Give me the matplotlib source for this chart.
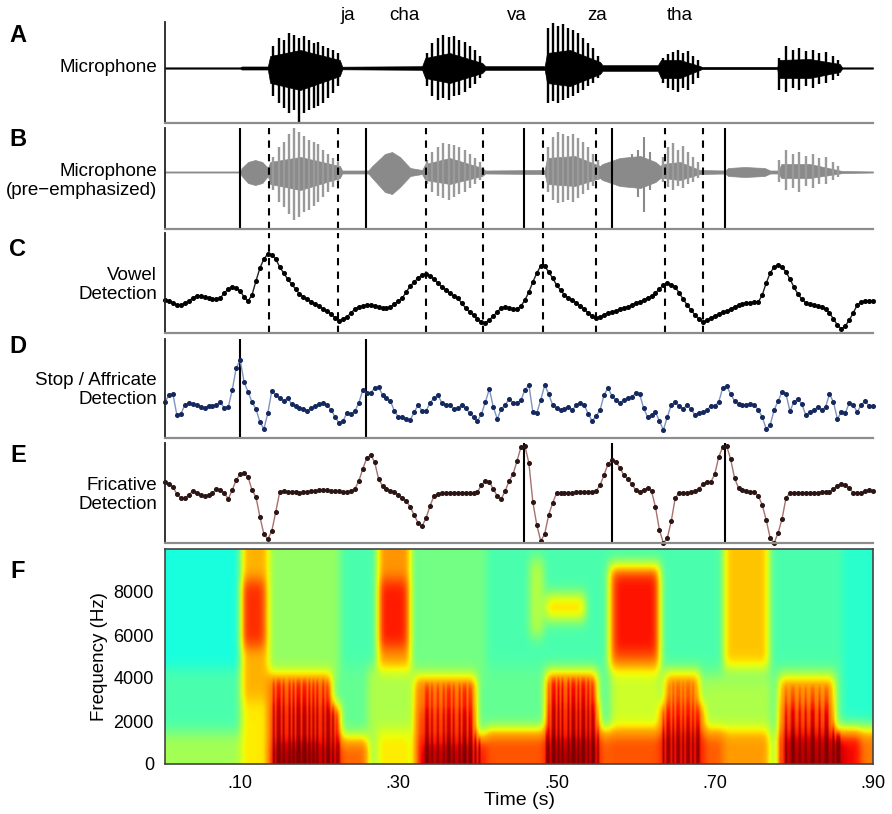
import numpy as np
import matplotlib
matplotlib.use("Agg")
import matplotlib.pyplot as plt
from matplotlib import transforms

plt.rcParams['font.family'] = ['Liberation Sans', 'DejaVu Sans']

# ---------------- data ----------------
syllables = ["ja", "cha", "va", "za", "tha"]
syllable_t = [0.236, 0.308, 0.450, 0.551, 0.656]

boundary_t = [0.100, 0.259, 0.459, 0.570, 0.713]
vowel_mark_t = [0.137, 0.224, 0.335, 0.407, 0.483, 0.550, 0.637, 0.685]
stop_t = [0.100, 0.259]
fric_t = [0.459, 0.570, 0.713]

panel_letters = ["A", "B", "C", "D", "E", "F"]
panel_names = ["Microphone", "Microphone\n(pre\u2212emphasized)", "Vowel\nDetection",
               "Stop / Affricate\nDetection", "Fricative\nDetection"]

# glottal pulse times (s) and amplitudes in both microphone traces
pulse_t = [0.142, 0.149, 0.155, 0.162, 0.168, 0.174, 0.181, 0.187, 0.193, 0.198, 0.205, 0.211, 0.217, 0.224,
           0.336, 0.343, 0.350, 0.357, 0.364, 0.370, 0.377, 0.384, 0.391, 0.397, 0.403,
           0.489, 0.496, 0.502, 0.508, 0.515, 0.521, 0.527, 0.534, 0.540, 0.546, 0.552,
           0.635, 0.641, 0.647, 0.654, 0.660, 0.666, 0.673, 0.679,
           0.781, 0.790, 0.799, 0.807, 0.815, 0.824, 0.832, 0.841, 0.850, 0.856]
micA_up = [22, 30, 28, 35, 33, 30, 32, 28, 25, 26, 22, 20, 18, 15,
           15, 25, 30, 33, 31, 32, 28, 26, 22, 18, 12,
           40, 45, 42, 44, 40, 38, 35, 30, 25, 20, 12,
           10, 14, 16, 18, 15, 17, 12, 8,
           10, 22, 18, 20, 17, 18, 15, 16, 12, 8]
micA_lo = [28, 35, 40, 45, 42, 55, 45, 42, 40, 38, 35, 30, 25, 18,
           18, 28, 32, 30, 32, 28, 27, 24, 20, 16, 10,
           35, 33, 35, 32, 30, 28, 25, 22, 18, 15, 10,
           15, 20, 22, 24, 20, 22, 16, 10,
           22, 24, 20, 22, 18, 20, 16, 15, 12, 8]
micB_up = [15, 25, 30, 38, 44, 40, 36, 32, 30, 28, 22, 18, 14, 10,
           12, 20, 25, 29, 28, 27, 25, 22, 18, 14, 10,
           25, 35, 40, 38, 36, 38, 34, 30, 25, 18, 12,
           15, 25, 29, 22, 26, 20, 15, 10,
           12, 22, 18, 20, 16, 18, 14, 15, 10, 6]
micB_lo = [18, 30, 35, 42, 48, 45, 40, 38, 34, 30, 25, 20, 15, 10,
           12, 20, 24, 26, 28, 25, 22, 20, 16, 12, 8,
           20, 28, 31, 30, 28, 30, 26, 22, 18, 14, 8,
           10, 15, 18, 14, 16, 12, 10, 6,
           10, 18, 16, 20, 14, 16, 12, 12, 8, 5]
fricB_t = [0.595, 0.603, 0.611, 0.618]
fricB_up = [18, 22, 35, 20]
fricB_lo = [15, 25, 40, 18]

# envelope of the dense part of the waveforms
envA_t = [0.005, 0.100, 0.102, 0.135, 0.138, 0.176, 0.226, 0.229, 0.330, 0.334, 0.365, 0.406, 0.410,
          0.485, 0.488, 0.517, 0.555, 0.558, 0.628, 0.632, 0.656, 0.681, 0.684, 0.779, 0.781, 0.820,
          0.858, 0.861, 0.900]
envA_up = [0.6, 0.6, 1.5, 1.5, 12, 18, 8, 1.3, 1.8, 10, 15, 5, 1.8, 1.8, 15, 18, 6, 2.8, 2.8, 8, 8, 2,
           1, 1, 8, 9, 4, 0.6, 0.6]
envA_lo = [0.6, 0.6, 1.5, 1.5, 15, 22, 8, 1.3, 1.8, 10, 15, 5, 1.8, 1.8, 15, 18, 6, 2.8, 2.8, 10, 10, 2,
           1, 1, 10, 10, 4, 0.6, 0.6]
envB_t = [0.005, 0.100, 0.102, 0.110, 0.119, 0.128, 0.135, 0.138, 0.176, 0.226, 0.229, 0.262, 0.267,
          0.283, 0.292, 0.302, 0.315, 0.330, 0.334, 0.365, 0.406, 0.410, 0.485, 0.488, 0.523, 0.555,
          0.558, 0.580, 0.606, 0.625, 0.631, 0.634, 0.656, 0.681, 0.713, 0.717, 0.738, 0.763, 0.770,
          0.781, 0.784, 0.820, 0.858, 0.861, 0.900]
envB_up = [0.5, 0.5, 4, 10, 12, 10, 4, 10, 15, 6, 1.5, 1.5, 6, 18, 20, 15, 4, 2, 8, 14, 4, 1.5, 2, 14, 16, 6,
           8, 14, 16, 10, 6, 8, 10, 2, 1.5, 4, 5, 4, 1.5, 1.5, 8, 8, 1.5, 1, 0.5]
envB_lo = [0.5, 0.5, 4, 11, 13, 11, 4, 12, 18, 6, 1.5, 1.5, 6, 20, 22, 15, 4, 2, 8, 12, 4, 1.5, 2, 12, 14, 6,
           8, 14, 16, 10, 6, 6, 8, 2, 1.5, 4, 5, 4, 1.5, 1.5, 6, 6, 1.5, 1, 0.5]

# detector outputs, sampled every 5 ms from 0.005 s to 0.900 s
det_start, det_step = 0.005, 0.005
vowel_det = [33, 32, 30, 28, 28, 30, 32, 35, 37, 37, 36, 35, 34, 34, 35, 40, 44, 46, 45, 42,
             36, 32, 38, 52, 65, 74, 79, 78, 74, 66, 60, 54, 49, 44, 39, 36, 34, 31, 29, 27,
             24, 22, 19, 15, 12, 14, 16, 20, 24, 26, 27, 28, 28, 27, 26, 25, 25, 26, 29, 32,
             35, 41, 47, 51, 55, 58, 59, 57, 54, 50, 46, 43, 40, 37, 35, 30, 25, 21, 18, 14,
             11, 10, 13, 17, 21, 25, 26, 25, 24, 24, 27, 33, 41, 51, 60, 67, 67, 61, 55, 48,
             43, 38, 35, 33, 30, 27, 24, 20, 17, 15, 16, 18, 20, 21, 22, 24, 25, 26, 28, 30,
             31, 33, 35, 37, 40, 44, 48, 50, 48, 46, 40, 34, 28, 23, 18, 14, 11, 13, 15, 17,
             19, 21, 22, 24, 26, 28, 29, 30, 30, 31, 31, 38, 50, 60, 66, 68, 66, 61, 54, 46,
             39, 34, 30, 29, 28, 27, 26, 24, 20, 14, 8, 4, 7, 13, 20, 28, 31, 32, 32, 32]
stop_det = [36, 43, 44, 23, 24, 33, 35, 34, 33, 31, 30, 32, 32, 33, 36, 30, 31, 48, 70, 78,
            56, 46, 36, 29, 16, 9, 25, 47, 43, 40, 37, 40, 34, 32, 30, 29, 27, 30, 32, 34,
            35, 33, 28, 21, 15, 17, 25, 24, 27, 35, 48, 45, 45, 50, 51, 43, 40, 37, 27, 21,
            21, 19, 18, 26, 33, 27, 27, 35, 40, 43, 35, 33, 33, 29, 30, 33, 30, 25, 21, 17,
            24, 36, 49, 31, 19, 29, 33, 39, 35, 35, 38, 48, 53, 26, 25, 38, 53, 44, 33, 30,
            28, 29, 31, 28, 33, 35, 33, 24, 17, 22, 28, 43, 50, 42, 38, 35, 38, 40, 41, 45,
            44, 30, 21, 23, 26, 17, 8, 21, 33, 36, 32, 29, 33, 29, 23, 25, 26, 28, 32, 32,
            36, 50, 52, 44, 37, 34, 33, 33, 34, 33, 28, 21, 9, 13, 28, 37, 46, 44, 27, 36,
            39, 34, 23, 26, 28, 31, 28, 31, 44, 36, 19, 26, 25, 35, 33, 26, 33, 37, 32, 32]
fric_det = [61, 59, 56, 49, 45, 45, 48, 52, 50, 48, 47, 48, 50, 54, 53, 50, 44, 53, 63, 69,
            70, 66, 53, 46, 26, 9, 4, 12, 31, 51, 52, 51, 51, 51, 50, 51, 51, 52, 52, 53,
            53, 53, 52, 52, 52, 51, 51, 52, 54, 62, 74, 85, 88, 81, 64, 57, 54, 52, 51, 48,
            45, 42, 36, 28, 20, 17, 25, 37, 47, 49, 50, 50, 50, 50, 50, 50, 50, 50, 50, 51,
            58, 62, 61, 54, 47, 44, 52, 62, 69, 82, 96, 97, 80, 41, 18, 2, 9, 28, 40, 50,
            50, 50, 50, 50, 51, 51, 51, 51, 51, 52, 58, 68, 79, 83, 81, 75, 68, 64, 59, 53,
            51, 53, 55, 52, 36, 13, 0, 5, 22, 45, 50, 50, 50, 51, 52, 54, 59, 61, 61, 69,
            86, 96, 97, 84, 65, 55, 53, 52, 51, 51, 47, 38, 23, 5, 0, 10, 24, 45, 50, 50,
            50, 50, 50, 50, 50, 50, 51, 51, 51, 54, 57, 59, 58, 55, 50, 50, 50, 52, 53, 52]

# spectrogram: background bands and energy regions (t0, t1 in s; f0, f1 in Hz; level 0..1)
base_t0 = [0.005, 0.005, 0.005, 0.005, 0.005, 0.860]
base_t1 = [0.900, 0.900, 0.900, 0.100, 0.100, 0.900]
base_f0 = [0, 0, 1500, 1500, 4500, 2000]
base_f1 = [10000, 1500, 4500, 4500, 10000, 10000]
base_lv = [0.44, 0.55, 0.47, 0.44, 0.38, 0.40]

ev_t0 = [0.100, 0.102, 0.100, 0.135, 0.150, 0.135, 0.135, 0.135, 0.226, 0.273, 0.277, 0.260, 0.273,
         0.321, 0.328, 0.321, 0.321, 0.321, 0.410, 0.465, 0.487, 0.495, 0.487, 0.487, 0.487, 0.554,
         0.566, 0.575, 0.568, 0.568, 0.631, 0.631, 0.635, 0.685, 0.685, 0.710, 0.710, 0.781, 0.790,
         0.781, 0.781, 0.884]
ev_t1 = [0.135, 0.131, 0.135, 0.226, 0.201, 0.226, 0.217, 0.226, 0.260, 0.315, 0.310, 0.321, 0.315,
         0.410, 0.391, 0.398, 0.398, 0.410, 0.487, 0.483, 0.554, 0.536, 0.554, 0.550, 0.536, 0.568,
         0.631, 0.625, 0.631, 0.631, 0.685, 0.685, 0.681, 0.710, 0.770, 0.769, 0.769, 0.884, 0.860,
         0.852, 0.852, 0.900]
ev_f0 = [3000, 5500, 0, 0, 0, 1000, 2700, 4100, 0, 4500, 5500, 1500, 0,
         0, 0, 1200, 2500, 4000, 0, 6000, 0, 0, 1200, 2700, 6800, 0,
         4500, 5200, 0, 1500, 0, 1500, 2700, 0, 1500, 4500, 0, 0, 0,
         1500, 2700, 0]
ev_f1 = [10000, 8500, 3000, 1000, 800, 2700, 4100, 10000, 1100, 10000, 8500, 4500, 1500,
         1200, 800, 2500, 4000, 10000, 1500, 9500, 1200, 800, 2700, 4200, 7800, 1500,
         9200, 8800, 1500, 4500, 1500, 2700, 4200, 1500, 4000, 10000, 1500, 1500, 1000,
         2700, 4000, 1500]
ev_lv = [0.72, 0.86, 0.66, 0.95, 1.00, 0.90, 0.84, 0.53, 0.84, 0.75, 0.88, 0.56, 0.66,
         0.92, 0.98, 0.88, 0.82, 0.49, 0.86, 0.57, 0.96, 1.00, 0.90, 0.85, 0.69, 0.85,
         0.79, 0.89, 0.86, 0.60, 0.93, 0.85, 0.78, 0.85, 0.56, 0.70, 0.76, 0.94, 0.99,
         0.87, 0.78, 0.82]

time_ticks = [0.10, 0.30, 0.50, 0.70, 0.90]
time_tick_labels = [".10", ".30", ".50", ".70", ".90"]
freq_ticks = [0, 2000, 4000, 6000, 8000]

# ---------------- figure ----------------
W_PX, H_PX = 892, 814
fig = plt.figure(figsize=(W_PX / 100, H_PX / 100), dpi=100)
LEFT, RIGHT = 165, 873
XLIM = (0.005, 0.900)
FS = 13.5


def add_ax(top, bottom):
    return fig.add_axes([LEFT / W_PX, 1 - bottom / H_PX, (RIGHT - LEFT) / W_PX, (bottom - top) / H_PX])


axA = add_ax(22, 123)
axB = add_ax(128, 229)
axC = add_ax(233, 333)
axD = add_ax(339, 438)
axE = add_ax(443, 543)
axF = add_ax(549, 764)

for ax in (axA, axB, axC, axD, axE):
    ax.set_xlim(*XLIM)
    ax.set_xticks([])
    ax.set_yticks([])
    ax.spines['top'].set_visible(False)
    ax.spines['right'].set_visible(False)
    ax.spines['left'].set_color('#222222')
    ax.spines['left'].set_linewidth(1.3)
    ax.spines['bottom'].set_color('#8c8c8c')
    ax.spines['bottom'].set_linewidth(1.6)
    ax.patch.set_alpha(0)

# A: microphone
axA.set_ylim(-55, 46)
axA.plot(XLIM, [0, 0], color='black', lw=0.9)
axA.fill_between(envA_t, -np.array(envA_lo, float), envA_up, color='black', lw=0.5)
axA.vlines(pulse_t, -np.array(micA_lo, float), micA_up, color='black', lw=1.7)

# B: pre-emphasized
grayB = '#8a8a8a'
axB.set_ylim(-57, 44)
axB.plot(XLIM, [0, 0], color=grayB, lw=0.9)
axB.fill_between(envB_t, -np.array(envB_lo, float), envB_up, color=grayB, lw=0.5)
axB.vlines(pulse_t, -np.array(micB_lo, float), micB_up, color='#9a9a9a', lw=1.7)
axB.vlines(fricB_t, -np.array(fricB_lo, float), fricB_up, color=grayB, lw=1.5)
for t in boundary_t:
    axB.axvline(t, color='black', lw=1.5)
for t in vowel_mark_t:
    axB.axvline(t, color='black', lw=1.5, ls=(0, (3.5, 3)))

# detector time grid
n_det = len(vowel_det)
det_t = det_start + det_step * np.arange(n_det)

# C: vowel detection
axC.set_ylim(0, 100)
for t in vowel_mark_t:
    axC.axvline(t, color='black', lw=1.5, ls=(0, (3.5, 3)))
axC.plot(det_t, vowel_det, color='#222222', lw=1.0, marker='o', ms=2.6,
         mfc='black', mec='black', clip_on=False)

# D: stop / affricate detection
axD.set_ylim(0, 99)
for t in stop_t:
    axD.axvline(t, color='black', lw=1.5)
axD.plot(det_t, stop_det, color='#7f93c0', lw=1.0, marker='o', ms=2.6,
         mfc='#14285e', mec='#14285e', clip_on=False)

# E: fricative detection
axE.set_ylim(0, 100)
for t in fric_t:
    axE.axvline(t, color='black', lw=1.5)
axE.plot(det_t, fric_det, color='#a7716c', lw=1.0, marker='o', ms=2.6,
         mfc='#2a1414', mec='#2a1414', clip_on=False)

# F: spectrogram
tt = np.arange(0.005, 0.9001, 0.0025)
ff = np.arange(0, 10001, 100)
S = np.zeros((ff.size, tt.size))


def rmask(t0, t1, f0, f1):
    return ((ff[:, None] >= f0) & (ff[:, None] <= f1) &
            (tt[None, :] >= t0) & (tt[None, :] <= t1))


def smooth(a, sigma, axis):
    r = int(3 * sigma) + 1
    k = np.exp(-0.5 * (np.arange(-r, r + 1) / sigma) ** 2)
    k /= k.sum()
    pw = [(r, r) if i == axis else (0, 0) for i in range(2)]
    p = np.pad(a, pw, mode='edge')
    return np.apply_along_axis(lambda v: np.convolve(v, k, mode='valid'), axis, p)


for t0, t1, f0, f1, lv in zip(base_t0, base_t1, base_f0, base_f1, base_lv):
    S[rmask(t0, t1, f0, f1)] = lv
for t0, t1, f0, f1, lv in zip(ev_t0, ev_t1, ev_f0, ev_f1, ev_lv):
    m = rmask(t0, t1, f0, f1)
    S[m] = np.maximum(S[m], lv)
S = smooth(S, 3.5, 0)
S = smooth(S, 1.8, 1)
# glottal striations in voiced regions, placed at the pulse times
dist = np.min(np.abs(tt[:, None] - np.array(pulse_t)[None, :]), axis=1)
stripe = np.where(dist < 0.0016, 0.05, -0.04)
voiced = np.clip((S - 0.72) / 0.1, 0, 1) * (ff[:, None] <= 4200)
S = np.clip(S + voiced * stripe[None, :], 0, 1)

axF.imshow(S, origin='lower', aspect='auto', cmap='jet', vmin=0, vmax=1,
           extent=(tt[0] - 0.00125, tt[-1] + 0.00125, -50, 10050), interpolation='bilinear')
axF.set_xlim(*XLIM)
axF.set_ylim(0, 10000)
for s in axF.spines.values():
    s.set_color('#444444')
    s.set_linewidth(1.2)
axF.set_xticks(time_ticks)
axF.set_xticklabels(time_tick_labels)
axF.set_yticks(freq_ticks)
axF.set_yticklabels([str(v) for v in freq_ticks])
axF.tick_params(axis='both', length=0, labelsize=13)
axF.tick_params(axis='x', pad=8)
axF.tick_params(axis='y', pad=8)
axF.set_ylabel("Frequency (Hz)", fontsize=FS, labelpad=4)
axF.set_xlabel("Time (s)", fontsize=14, labelpad=0)

# panel names (left of axes)
name_y = [68, 181, 285, 390, 495]
for name, y in zip(panel_names, name_y):
    fig.text(157 / W_PX, 1 - y / H_PX, name, ha='right', va='center',
             multialignment='right', fontsize=FS, linespacing=1.15)

# panel letters
letter_y = [35, 140, 250, 347, 455, 572]
for letter, y in zip(panel_letters, letter_y):
    fig.text(18 / W_PX, 1 - y / H_PX, letter, ha='center', va='center',
             fontsize=17, fontweight='bold')

# syllable labels above panel A
trans = transforms.blended_transform_factory(axA.transData, fig.transFigure)
for s, t in zip(syllables, syllable_t):
    axA.text(t, 1 - 16 / H_PX, s, transform=trans, ha='center', va='center', fontsize=FS)

fig.savefig("out.png", dpi=100)
